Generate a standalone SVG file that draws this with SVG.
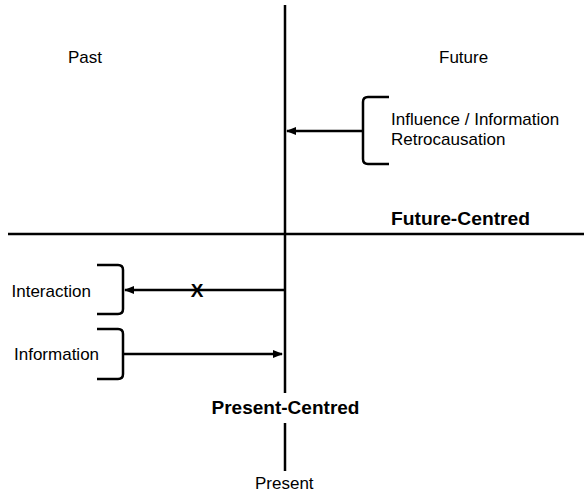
<svg xmlns="http://www.w3.org/2000/svg" width="584" height="492" viewBox="0 0 584 492">
<style>
text{font-family:"Liberation Sans",Arial,sans-serif;fill:#000}
.t{font-size:17px}
.b{font-size:19px;font-weight:bold}
.l{stroke:#000;stroke-width:2.5;fill:none}
.br{stroke:#000;stroke-width:2.5;fill:none;stroke-linejoin:round}
</style>
<defs>
<marker id="ah" viewBox="0 0 10 10" refX="9" refY="5" markerWidth="4" markerHeight="4" orient="auto-start-reverse">
<path d="M0,1 L10,5 L0,9 Z" fill="#000"/>
</marker>
</defs>
<g id="axes">
<line class="l" x1="285" y1="5" x2="285" y2="393"/>
<line class="l" x1="285" y1="423" x2="285" y2="471"/>
<line class="l" x1="8" y1="234" x2="584" y2="234"/>
</g>
<g id="past"><text class="t" x="68" y="63">Past</text></g>
<g id="future"><text class="t" x="439" y="63">Future</text></g>
<g id="future-bracket">
<path class="br" d="M389,97 L368,97 Q363,97 363,102 L363,159 Q363,164 368,164 L389,164"/>
<text class="t" x="391" y="124.5">Influence / Information</text>
<text class="t" x="391" y="144.5">Retrocausation</text>
</g>
<g id="future-centred"><text class="b" x="391" y="225" textLength="139" lengthAdjust="spacingAndGlyphs">Future-Centred</text></g>
<g id="interaction">
<path class="br" d="M97,265 L118,265 Q123,265 123,270 L123,309 Q123,314 118,314 L97,314"/>
<text class="t" x="11.5" y="297">Interaction</text>
</g>
<g id="information">
<path class="br" d="M97,329 L118,329 Q123,329 123,334 L123,374 Q123,379 118,379 L97,379"/>
<text class="t" x="14" y="360">Information</text>
</g>
<g id="present-centred"><text class="b" x="211.5" y="414" textLength="148" lengthAdjust="spacingAndGlyphs">Present-Centred</text></g>
<g id="present"><text class="t" x="255" y="489">Present</text></g>
<g id="connectors">
<line class="l" x1="363" y1="131" x2="287" y2="131" marker-end="url(#ah)"/>
<line class="l" x1="285" y1="290" x2="125" y2="290" marker-end="url(#ah)"/>
<line class="l" x1="124" y1="354" x2="282" y2="354" marker-end="url(#ah)"/>
<text x="197" y="296.5" style="font-size:19px;font-weight:bold" text-anchor="middle">X</text>
</g>
</svg>
